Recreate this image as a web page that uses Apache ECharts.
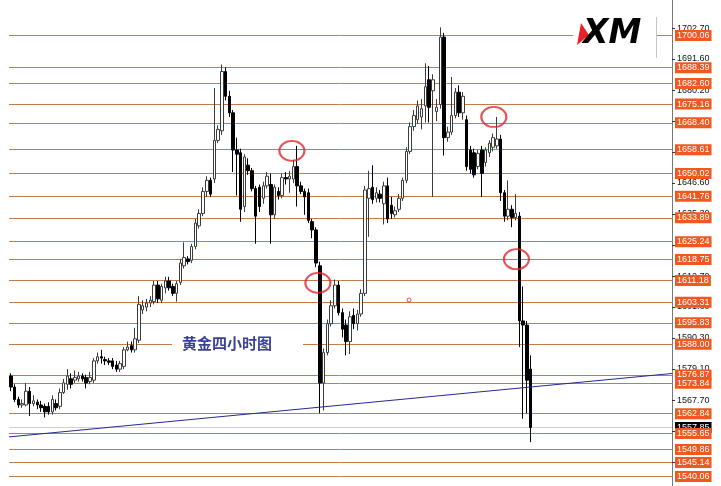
<!DOCTYPE html>
<html><head><meta charset="utf-8">
<script src="https://cdn.jsdelivr.net/npm/echarts@6/dist/echarts.min.js"></script>
<style>html,body{margin:0;padding:0;background:#fff}#c{width:721px;height:486px}</style>
</head><body><div id="c"></div>
<script>
// [open, close, low, high]
const candles = [
[1576.5,1572.5,1571.0,1577.5],[1572.5,1568.0,1567.0,1573.5],[1568.0,1566.0,1565.0,1569.0],[1566.0,1566.5,1565.0,1568.0],
[1566.0,1571.0,1565.5,1574.0],[1571.0,1566.5,1562.0,1572.5],[1566.5,1567.5,1565.5,1569.5],[1567.0,1566.0,1564.5,1568.0],
[1566.0,1565.0,1563.5,1567.5],[1565.5,1563.5,1561.5,1566.5],[1565.5,1563.5,1562.5,1567.0],[1563.5,1568.0,1562.5,1569.5],
[1566.5,1565.0,1564.0,1568.0],[1565.5,1570.5,1564.5,1572.0],[1570.5,1574.0,1570.0,1575.5],[1573.5,1576.5,1571.5,1579.0],
[1575.5,1573.5,1572.0,1577.5],[1575.0,1576.0,1574.0,1578.5],[1575.5,1576.5,1574.5,1578.0],[1576.5,1575.5,1574.5,1577.5],
[1576.0,1574.0,1572.0,1577.0],[1574.5,1576.0,1573.5,1578.0],[1575.0,1582.0,1574.0,1583.0],[1582.0,1583.5,1581.0,1585.0],
[1583.5,1583.0,1581.0,1586.0],[1582.5,1582.0,1580.5,1583.5],[1582.0,1581.5,1580.5,1583.0],[1582.0,1580.0,1579.0,1583.0],
[1580.5,1579.0,1578.0,1582.0],[1579.0,1581.0,1578.0,1582.0],[1580.0,1586.0,1579.0,1587.0],[1586.0,1587.0,1585.5,1589.0],
[1587.5,1586.0,1585.0,1589.0],[1586.0,1590.0,1585.0,1594.0],[1589.5,1602.5,1588.5,1605.5],[1600.5,1602.0,1599.0,1604.0],
[1601.5,1603.0,1600.0,1604.5],[1603.0,1604.0,1601.5,1605.5],[1603.5,1609.5,1602.5,1611.0],[1609.5,1604.5,1603.0,1611.0],
[1604.0,1609.0,1603.0,1610.0],[1608.5,1611.0,1606.5,1612.5],[1611.0,1608.5,1607.5,1612.5],[1609.0,1606.5,1605.5,1610.0],
[1606.5,1610.0,1603.5,1611.0],[1610.5,1617.5,1609.5,1619.0],[1616.5,1619.5,1615.5,1625.0],[1619.0,1618.0,1617.0,1620.0],
[1618.5,1623.5,1617.5,1624.5],[1623.5,1632.0,1622.5,1633.5],[1631.0,1635.5,1630.0,1637.0],[1635.5,1643.5,1634.5,1645.0],
[1643.5,1647.5,1641.5,1649.0],[1647.5,1642.5,1641.5,1648.5],[1648.0,1662.0,1646.5,1681.0],[1662.0,1666.0,1661.0,1667.5],
[1665.5,1687.0,1664.0,1689.5],[1687.0,1678.0,1676.5,1688.5],[1678.0,1672.0,1670.5,1680.0],[1672.0,1658.5,1650.5,1673.0],
[1658.5,1657.0,1642.0,1663.0],[1657.5,1637.0,1632.5,1659.0],[1638.0,1656.0,1636.0,1657.0],[1653.0,1651.0,1649.5,1655.5],
[1651.0,1644.5,1643.5,1652.0],[1644.5,1634.5,1624.5,1645.5],[1645.0,1638.0,1636.0,1646.0],[1641.0,1645.5,1639.0,1647.0],
[1645.5,1649.0,1644.5,1650.5],[1646.0,1635.0,1624.5,1650.0],[1635.0,1645.0,1633.5,1646.0],[1643.5,1642.0,1640.5,1645.0],
[1642.0,1648.5,1641.0,1650.0],[1648.5,1648.0,1646.0,1650.5],[1648.0,1649.0,1643.0,1651.0],[1648.0,1652.5,1646.5,1655.0],
[1652.5,1645.5,1638.0,1660.0],[1645.5,1643.5,1642.5,1647.0],[1643.5,1641.5,1635.0,1644.5],[1643.0,1633.0,1632.0,1644.5],
[1632.5,1629.5,1626.5,1633.5],[1629.5,1617.5,1616.0,1630.5],[1616.5,1574.0,1563.0,1618.0],[1574.0,1585.0,1564.0,1586.5],
[1585.0,1595.5,1584.0,1597.0],[1595.5,1602.0,1594.5,1604.0],[1602.0,1609.5,1601.0,1611.5],[1609.5,1599.5,1598.5,1611.0],
[1599.5,1593.5,1590.5,1601.0],[1595.0,1589.0,1584.0,1597.0],[1589.0,1598.0,1584.5,1600.0],[1598.5,1595.5,1593.5,1601.0],
[1595.5,1599.0,1593.0,1600.5],[1599.0,1606.5,1598.0,1608.0],[1606.5,1644.0,1605.5,1645.5],[1641.0,1644.5,1627.0,1651.0],
[1645.0,1640.5,1639.0,1653.0],[1641.0,1643.0,1639.5,1645.0],[1642.5,1641.0,1639.5,1644.0],[1639.0,1645.5,1631.5,1647.0],
[1645.5,1633.5,1632.0,1648.5],[1638.5,1635.5,1633.5,1641.5],[1635.0,1636.5,1634.0,1638.0],[1637.0,1641.0,1636.0,1642.5],
[1641.0,1647.5,1640.0,1648.5],[1647.5,1658.0,1646.5,1659.5],[1658.0,1667.0,1657.0,1668.5],[1667.0,1671.0,1665.5,1673.0],
[1669.5,1674.5,1668.0,1676.5],[1670.5,1673.5,1666.0,1677.0],[1674.5,1681.5,1668.5,1690.0],[1684.0,1674.0,1668.5,1689.0],
[1680.0,1684.0,1641.5,1686.0],[1672.5,1674.0,1669.0,1677.0],[1675.0,1699.5,1673.5,1703.0],[1699.5,1663.0,1656.5,1701.0],
[1663.0,1665.0,1661.5,1667.0],[1665.0,1671.0,1664.0,1685.0],[1671.0,1679.5,1670.0,1681.0],[1679.5,1672.0,1670.5,1682.0],
[1672.0,1678.0,1669.5,1679.5],[1669.5,1652.5,1651.0,1671.0],[1658.5,1651.5,1650.0,1660.0],[1657.5,1649.5,1648.5,1659.0],
[1652.5,1657.3,1651.5,1658.5],[1658.5,1650.0,1641.5,1660.0],[1654.0,1658.5,1652.5,1659.5],[1657.5,1661.0,1656.0,1662.0],
[1659.5,1663.0,1658.0,1664.5],[1660.0,1662.5,1659.0,1670.5],[1662.5,1643.0,1640.0,1664.0],[1643.0,1634.5,1632.5,1644.0],
[1634.5,1637.0,1633.0,1647.5],[1637.0,1634.0,1630.5,1638.5],[1634.0,1635.5,1633.0,1642.5],[1634.5,1596.5,1587.0,1636.0],
[1596.5,1595.0,1561.0,1609.0],[1595.0,1575.0,1563.0,1596.5],[1579.0,1557.85,1552.5,1584.0]
];
const slotCount = 176;
const levels = [1700.06,1688.39,1682.60,1675.16,1668.40,1658.61,1650.02,1641.76,1633.89,1625.24,1618.75,
  1611.18,1603.31,1595.83,1588.00,1576.87,1573.84,1562.84,1555.65,1549.86,1545.14,1540.06];
const tickValues = [1702.70,1691.60,1680.20,1668.90,1657.80,1646.60,1635.30,1624.10,1612.70,1601.60,1590.30,1579.10,1567.70,1556.40,1545.20];
const currentPrice = 1557.85;
const trendLine = [[-0.5,1554.41],[175.5,1577.42]];
const circles = [[74.6,1658.2],[81.5,1610.3],[128.2,1670.5],[134.2,1618.9]];
const marker = [[105.7,1604.1]];
const titleText = '黄金四小时图';
const yMin = 1536.6, yMax = 1712.94;

const cats = Array.from({length: slotCount}, (_, i) => String(i));
const chart = echarts.init(document.getElementById('c'), null, {renderer: 'canvas'});
const boxLabel = (bg) => ({
  show: true, position: 'end', distance: 3,
  formatter: p => Number(p.value).toFixed(2),
  backgroundColor: bg, color: '#fff', fontSize: 9, fontFamily: 'Liberation Sans, Arial, sans-serif',
  padding: [1, 2, 0, 2], lineHeight: 10
});
chart.setOption({
  animation: false,
  backgroundColor: '#fff',
  grid: {left: 9, right: 49, top: 0, bottom: 0, outerBoundsMode: 'none'},
  xAxis: [
    {type: 'category', data: cats, boundaryGap: true, show: false},
    {type: 'value', min: -0.5, max: slotCount - 0.5, show: false}
  ],
  yAxis: {
    type: 'value', position: 'right', min: yMin, max: yMax,
    splitLine: {show: false},
    axisLine: {show: true, onZero: false, lineStyle: {color: '#777', width: 1}},
    axisTick: {show: true, length: 3, customValues: tickValues, lineStyle: {color: '#333'}},
    axisLabel: {show: true, customValues: tickValues, formatter: v => v.toFixed(2), color: '#111',
      fontSize: 9, fontFamily: 'Liberation Sans, Arial, sans-serif', margin: 5}
  },
  series: [
    {type: 'line', xAxisIndex: 1, data: [], silent: true,
      markLine: {symbol: 'none', silent: true, animation: false, z: 1,
        lineStyle: {color: '#cfcfcf', width: 1, type: 'solid'},
        label: boxLabel('#000'), data: [{yAxis: currentPrice}]}},
    {type: 'line', xAxisIndex: 1, data: [], silent: true,
      markLine: {symbol: 'none', silent: true, animation: false, z: 1.5,
        lineStyle: {color: '#c47b47', width: 1, type: 'solid'},
        label: boxLabel('#f0581f'), data: levels.map(v => ({yAxis: v}))}},
    {type: 'candlestick', data: candles, barWidth: 3, z: 2,
      itemStyle: {color: '#fff', color0: '#000', borderColor: '#3c3c3c', borderColor0: '#000', borderWidth: 1}},
    {type: 'line', xAxisIndex: 1, data: trendLine, symbol: 'none', z: 3,
      lineStyle: {color: '#262a8c', width: 1}},
    {type: 'scatter', xAxisIndex: 1, data: circles, symbol: 'circle', symbolSize: [25, 20], z: 4,
      itemStyle: {color: 'rgba(0,0,0,0)', borderColor: '#e0252a', borderWidth: 2}},
    {type: 'scatter', xAxisIndex: 1, data: marker, symbol: 'circle', symbolSize: 4, z: 4,
      itemStyle: {color: 'rgba(0,0,0,0)', borderColor: '#e0252a', borderWidth: 1}}
  ],
  graphic: [
    {type: 'text', z: 10, style: {text: titleText, x: 172, y: 343, verticalAlign: 'middle', align: 'left',
      fill: '#3b3f9c', fontSize: 15, fontWeight: 'bold', fontFamily: '"Noto Sans CJK SC", sans-serif',
      backgroundColor: '#fff', padding: [2, 31, 2, 10]}},
    {type: 'rect', z: 10, shape: {x: 573, y: 14, width: 84, height: 44}, style: {fill: '#fff'}},
    {type: 'line', z: 11, shape: {x1: 656.5, y1: 17, x2: 656.5, y2: 58}, style: {stroke: '#c4c4c4', lineWidth: 1}},
    {type: 'polygon', z: 11, shape: {points: [[581, 23], [589, 35], [577, 45]]}, style: {fill: '#e8202a'}},
    {type: 'text', z: 11, style: {text: 'XM', x: 583, y: 34, verticalAlign: 'middle', align: 'left',
      fill: '#000', fontSize: 33, fontWeight: 900, fontStyle: 'italic', fontFamily: '"DejaVu Sans", sans-serif'}}
  ]
});
</script></body></html>
